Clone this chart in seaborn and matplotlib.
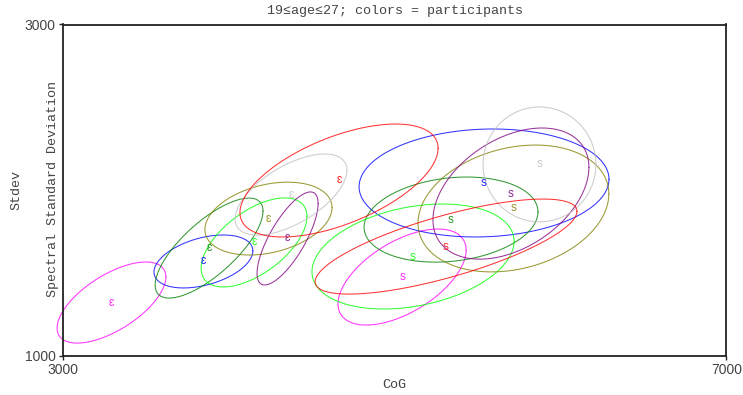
import numpy as np
import pandas as pd
import matplotlib
matplotlib.use("Agg")
import matplotlib.pyplot as plt
import seaborn as sns

# Participants and their line colours
participants = ["P1", "P2", "P3", "P4", "P5", "P6", "P7", "P8"]
colors = ["#ff00ff", "#0000ff", "#008000", "#00ff00",
          "#808000", "#800080", "#c0c0c0", "#ff0000"]

# /ɛ/: mean CoG, mean Stdev, their SDs and correlation, per participant
eps_cog = [3294, 3848, 3882, 4153, 4240, 4355, 4376, 4665]
eps_std = [1321, 1569, 1650, 1684, 1828, 1708, 1973, 2058]
eps_cog_sd = [328, 298, 325, 319, 383, 184, 337, 597]
eps_std_sd = [245, 160, 302, 269, 220, 281, 245, 341]
eps_r = [0.63, 0.40, 0.74, 0.58, 0.30, 0.75, 0.60, 0.57]

# /s/: same measures
s_cog = [5045, 5539, 5340, 5111, 5716, 5701, 5873, 5310]
s_std = [1475, 2043, 1822, 1599, 1889, 1979, 2155, 1659]
s_cog_sd = [386, 753, 524, 609, 575, 470, 340, 789]
s_std_sd = [290, 326, 257, 317, 383, 396, 347, 287]
s_r = [0.56, 0.07, 0.18, 0.29, 0.23, 0.40, 0.0, 0.74]

vowels = {"ɛ": (eps_cog, eps_std, eps_cog_sd, eps_std_sd, eps_r),
          "s": (s_cog, s_std, s_cog_sd, s_std_sd, s_r)}

# Trace each covariance ellipse (1 SD) as a closed path
t = np.linspace(0, 2 * np.pi, 240)
rows = []
for seg, (cx, cy, sx, sy, rr) in vowels.items():
    for i, p in enumerate(participants):
        x = cx[i] + sx[i] * np.cos(t)
        y = cy[i] + sy[i] * (rr[i] * np.cos(t) + np.sqrt(1 - rr[i] ** 2) * np.sin(t))
        rows.append(pd.DataFrame({"CoG": x, "Stdev": y, "participant": p,
                                  "ellipse": f"{seg}-{p}", "order": np.arange(len(t))}))
df = pd.concat(rows, ignore_index=True)

sns.set_theme(style="white")
plt.rcParams["font.family"] = ["Liberation Mono", "DejaVu Sans Mono"]

fig = plt.figure(figsize=(7.43, 3.95), dpi=100)
W, H = 743, 395
ax = fig.add_axes([62.7 / W, 1 - 355.7 / H, (726.5 - 62.7) / W, (355.7 - 24.5) / H])

palette = dict(zip(participants, colors))
sns.lineplot(data=df, x="CoG", y="Stdev", hue="participant", units="ellipse",
             estimator=None, sort=False, palette=palette, legend=False,
             linewidth=0.75, alpha=0.8, ax=ax)
for ln in ax.lines:
    ln.set_clip_on(False)

label_fonts = ["Liberation Sans", "DejaVu Sans"]
for seg, (cx, cy, sx, sy, rr) in vowels.items():
    for i, p in enumerate(participants):
        ax.text(cx[i], cy[i], seg, color=colors[i], ha="center", va="center",
                fontsize=8.5, family=label_fonts, alpha=0.85)

ax.set_xlim(3000, 7000)
ax.set_ylim(1000, 3000)
ax.set_xticks([3000, 7000])
ax.set_yticks([1000, 3000])
ax.set_xticklabels(["3000", "7000"], family=label_fonts, fontsize=10, color="#444444")
ax.set_yticklabels(["1000", "3000"], family=label_fonts, fontsize=10, color="#444444")
ax.tick_params(axis="both", direction="out", length=3, width=1, pad=2,
               bottom=True, left=True, color="#222222")
ax.set_xlabel("")
ax.set_ylabel("")
for sp in ax.spines.values():
    sp.set_visible(True)
    sp.set_color("#222222")
    sp.set_linewidth(1.3)
    sp.set_zorder(5)

fig.text(394.6 / W, 1 - 11 / H, "19≤age≤27; colors = participants",
         ha="center", va="center", fontsize=9.6, color="#444444")
fig.text(394.6 / W, 1 - 385 / H, "CoG", ha="center", va="center",
         fontsize=9.6, color="#444444")
fig.text(53 / W, 1 - 189 / H, "Spectral Standard Deviation", rotation=90,
         ha="center", va="center", fontsize=9.6, color="#444444")
fig.text(16 / W, 1 - 190 / H, "Stdev", rotation=90,
         ha="center", va="center", fontsize=9.6, color="#444444")

fig.savefig("out.png", dpi=100)
